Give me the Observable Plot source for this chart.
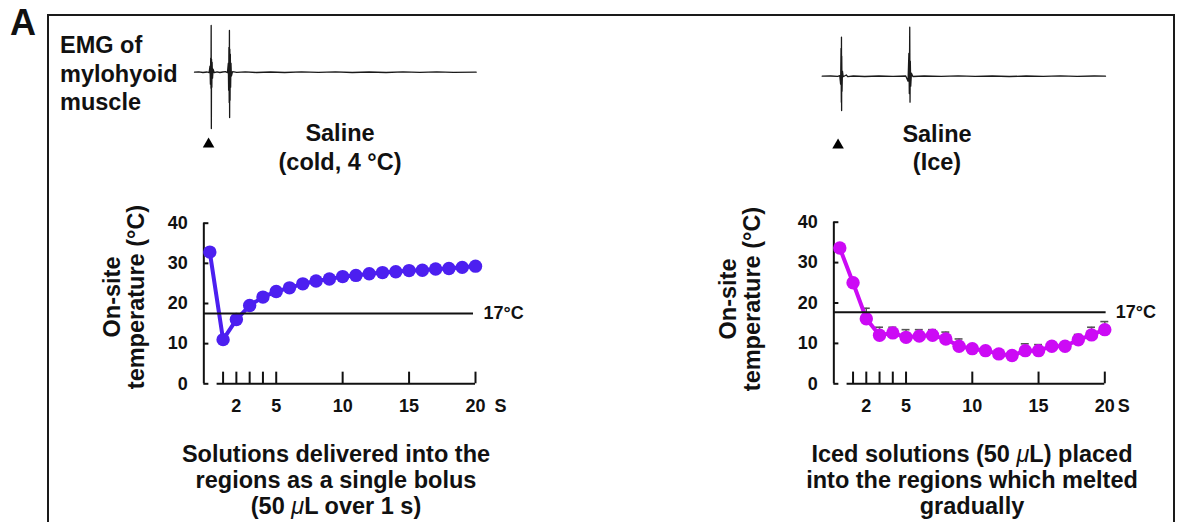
<!DOCTYPE html>
<html>
<head>
<meta charset="utf-8">
<script src="https://cdn.jsdelivr.net/npm/d3@7"></script>
<script src="https://cdn.jsdelivr.net/npm/@observablehq/plot@0.6"></script>
<style>
  html, body { margin: 0; padding: 0; background: #fff; overflow: hidden; }
  #page { position: relative; width: 1184px; height: 522px; overflow: hidden; font-family: "Liberation Sans", Arial, sans-serif; }
  #page > svg { position: absolute; left: 0; top: 0; }
  #frame { position: absolute; left: 47px; top: 14px; width: 1128px; height: 620px; border: 2px solid #1a1a1a; box-sizing: border-box; }
  text { font-family: "Liberation Sans", Arial, sans-serif; font-weight: bold; }
</style>
</head>
<body>
<div id="page">
  <div id="frame"></div>
</div>
<script>
// ---------- data ----------
const seconds = [0, 1, 2, 3, 4, 5, 6, 7, 8, 9, 10, 11, 12, 13, 14, 15, 16, 17, 18, 19, 20];
const coldTemp = [32.8, 11.0, 16.0, 19.5, 21.6, 23.0, 23.9, 24.9, 25.6, 26.1, 26.7, 27.0, 27.4, 27.7, 27.9, 28.2, 28.3, 28.6, 28.7, 29.0, 29.3];
const iceTemp = [33.6, 25.0, 16.1, 12.0, 12.6, 11.5, 11.8, 12.0, 11.1, 9.3, 8.7, 8.2, 7.4, 7.0, 8.2, 8.2, 9.3, 9.3, 10.9, 12.1, 13.4];
const iceUpper = [34.3, 25.8, 18.7, 14.0, 14.0, 13.4, 13.4, 13.4, 12.8, 11.1, 9.6, 9.0, 8.2, 7.8, 9.9, 9.7, 10.2, 10.1, 12.2, 14.0, 15.4];
const yTicks = [0, 10, 20, 30, 40];
const xTicks = [1, 2, 3, 4, 5, 10, 15, 20];
const xTickLabels = [2, 5, 10, 15, 20];
const thresholdLabel = "17°C";
const unitLabel = "S";

// EMG traces: [time, voltage]
const emgCold = [[0,0],[0.15,0.03],[0.3,-0.03],[0.45,0.02],[0.52,-0.05],[0.55,0.6],[0.565,-1.2],[0.575,1.4],[0.585,-1.6],[0.592,4.67],[0.598,-5.63],[0.605,1.3],[0.615,-1.5],[0.625,1.0],[0.64,-0.6],[0.66,0.3],[0.7,-0.05],[0.8,0.04],[0.9,-0.03],[1.0,0.02],[1.1,0.05],[1.17,-0.04],[1.2,0.9],[1.212,-1.8],[1.222,2.47],[1.232,-3.03],[1.24,4.17],[1.247,-4.53],[1.254,2.3],[1.262,-2.8],[1.272,1.8],[1.282,-1.5],[1.295,0.9],[1.31,-0.4],[1.35,0.05],[1.5,-0.02],[1.8,0.03],[2.2,-0.03],[2.7,0.02],[3.2,-0.03],[3.8,0.03],[4.4,-0.02],[5.0,0.03],[5.6,-0.03],[6.2,0.02],[6.8,-0.03],[7.4,0.03],[8.0,-0.02],[8.6,0.03],[9.2,-0.02],[10,0]];
const emgIce = [[0,0],[0.3,0.02],[0.55,-0.02],[0.62,0.05],[0.65,-0.8],[0.665,2.77],[0.675,-2.6],[0.68,3.9],[0.685,-3.43],[0.69,2.0],[0.7,-1.5],[0.715,0.5],[0.74,-0.05],[0.85,0.12],[0.9,-0.05],[1.1,0.02],[1.5,-0.03],[2.0,0.02],[2.5,-0.02],[2.95,0.02],[3.03,-0.5],[3.06,2.27],[3.075,-1.73],[3.09,4.9],[3.1,-2.6],[3.11,1.5],[3.125,-1.0],[3.15,0.3],[3.2,-0.03],[3.6,0.02],[4.2,-0.02],[4.8,0.03],[5.4,-0.02],[6.0,0.02],[6.6,-0.03],[7.2,0.02],[7.8,-0.02],[8.4,0.03],[9.0,-0.02],[9.6,0.02],[10,0]];
const stimCold = [[0.5, -7.2]];
const stimIce = [[0.56, -6.9]];

// ---------- helpers ----------
const page = document.getElementById("page");
const baseStyle = {background: "transparent", overflow: "visible", fontFamily: "Liberation Sans, Arial, sans-serif"};

function emgPlot(trace, stim, xRange, yRange) {
  const p = Plot.plot({
    width: 1184, height: 522, style: baseStyle,
    x: {domain: [0, 10], range: xRange, axis: null},
    y: {domain: [-6, 6], range: yRange, axis: null},
    marks: [
      Plot.line(trace, {x: d => d[0], y: d => d[1], stroke: "#1a1a1a", strokeWidth: 1.3}),
      Plot.dot(stim, {x: d => d[0], y: d => d[1], symbol: "triangle", r: 4.3, fill: "#000", stroke: "none"})
    ]
  });
  page.appendChild(p);
}

function tempPlot(opts) {
  const pts = seconds.map((s, i) => ({s, t: opts.temp[i], u: opts.upper ? opts.upper[i] : null}));
  const axisX = -0.45;
  const marks = [
    Plot.ruleX([axisX], {y1: 0, y2: 40, stroke: "#111", strokeWidth: 2}),
    Plot.ruleY(yTicks, {x1: axisX, x2: -0.07, stroke: "#111", strokeWidth: 2}),
    Plot.ruleY([0], {x1: 0.55, x2: 20, stroke: "#111", strokeWidth: 2}),
    Plot.ruleX(xTicks, {y1: 0, y2: 2.9, stroke: "#111", strokeWidth: 2}),
    Plot.text(yTicks, {x: axisX, y: d => d, text: d => String(d), dx: -16, textAnchor: "end", fontSize: 18, fontWeight: "bold", fill: "#111"}),
    Plot.text(xTickLabels, {x: d => d, y: 0, text: d => String(d), dy: 15, lineAnchor: "top", fontSize: 18, fontWeight: "bold", fill: "#111"}),
    Plot.text([unitLabel], {x: 20, y: 0, text: d => d, dx: opts.sDx, dy: 15, lineAnchor: "top", fontSize: 18, fontWeight: "bold", fill: "#111"})
  ];
  if (opts.upper) {
    marks.push(
      Plot.ruleX(pts, {x: "s", y1: "t", y2: "u", stroke: "#555", strokeWidth: 1.4}),
      Plot.ruleY(pts, {y: "u", x1: d => d.s - 0.3, x2: d => d.s + 0.3, stroke: "#555", strokeWidth: 1.6})
    );
  }
  marks.push(
    Plot.line(pts, {x: "s", y: "t", stroke: opts.color, strokeWidth: 4}),
    Plot.dot(pts, {x: "s", y: "t", r: 6.7, fill: opts.color, stroke: "none"}),
    Plot.ruleY([opts.threshold], {x1: axisX, x2: opts.thrEnd, stroke: "#111", strokeWidth: 2}),
    Plot.text([opts.threshold], {x: 20, y: d => d, text: () => thresholdLabel, dx: opts.labelDx, textAnchor: "start", fontSize: 18, fontWeight: "bold", fill: "#111"})
  );
  const p = Plot.plot({
    width: 1184, height: 522, style: baseStyle,
    x: {domain: [0, 20], range: opts.xRange, axis: null},
    y: {domain: [0, 40], range: opts.yRange, axis: null},
    marks
  });
  page.appendChild(p);
}

// ---------- draw ----------
emgPlot(emgCold, stimCold, [194, 475.7], [131.7, 11.7]);
emgPlot(emgIce, stimIce, [821.7, 1105], [135.7, 15.7]);

tempPlot({temp: coldTemp, upper: null, color: "#4c1ff0", xRange: [209.3, 475], yRange: [383.3, 222.7], threshold: 17.5, thrEnd: 19.85, labelDx: 8, sDx: 25});
tempPlot({temp: iceTemp, upper: iceUpper, color: "#cc0af5", xRange: [839.3, 1104.3], yRange: [383.3, 221.7], threshold: 17.7, thrEnd: 20.1, labelDx: 11, sDx: 19});

// ---------- static text ----------
const NS = "http://www.w3.org/2000/svg";
const svg = document.createElementNS(NS, "svg");
svg.setAttribute("width", 1184);
svg.setAttribute("height", 522);
function addText(str, x, y, size, anchor, transform) {
  const t = document.createElementNS(NS, "text");
  t.setAttribute("x", x);
  t.setAttribute("y", y);
  t.setAttribute("font-size", size);
  t.setAttribute("text-anchor", anchor || "start");
  t.setAttribute("fill", "#111");
  if (transform) t.setAttribute("transform", transform);
  const parts = str.split("μ");
  parts.forEach((part, i) => {
    if (i > 0) {
      const ts = document.createElementNS(NS, "tspan");
      ts.setAttribute("font-style", "italic");
      ts.setAttribute("font-weight", "normal");
      ts.textContent = "μ";
      t.appendChild(ts);
    }
    const ts2 = document.createElementNS(NS, "tspan");
    ts2.textContent = part;
    t.appendChild(ts2);
  });
  svg.appendChild(t);
}
addText("A", 10, 35, 36);
addText("EMG of", 60, 53, 23.5);
addText("mylohyoid", 60, 81.5, 23.5);
addText("muscle", 60, 110, 23.5);
addText("Saline", 340, 141, 23.5, "middle");
addText("(cold, 4 °C)", 340, 170, 23.5, "middle");
addText("Saline", 937, 141.5, 23.5, "middle");
addText("(Ice)", 937, 170, 23.5, "middle");
addText("On-site", 0, 0, 23.5, "middle", "translate(120,297) rotate(-90)");
addText("temperature (°C)", 0, 0, 23.5, "middle", "translate(144,297) rotate(-90)");
addText("On-site", 0, 0, 23.5, "middle", "translate(736,299) rotate(-90)");
addText("temperature (°C)", 0, 0, 23.5, "middle", "translate(760,299) rotate(-90)");
addText("Solutions delivered into the", 336, 462, 23.5, "middle");
addText("regions as a single bolus", 336, 488, 23.5, "middle");
addText("(50 μL over 1 s)", 336, 514, 23.5, "middle");
addText("Iced solutions (50 μL) placed", 972, 462, 23.5, "middle");
addText("into the regions which melted", 972, 488, 23.5, "middle");
addText("gradually", 972, 514, 23.5, "middle");
page.appendChild(svg);
</script>
</body>
</html>
